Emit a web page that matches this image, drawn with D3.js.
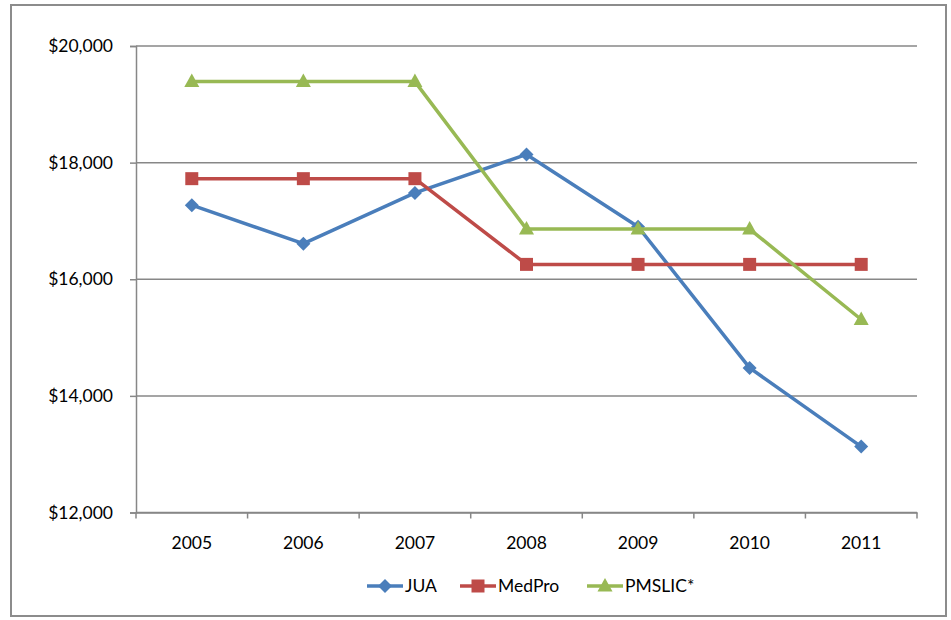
<!DOCTYPE html>
<html><head><meta charset="utf-8">
<script src="https://cdn.jsdelivr.net/npm/d3@7"></script>
<style>body{margin:0;background:#fff}svg{display:block}text{font-family:Lato,"Open Sans",sans-serif;fill:#000}</style>
</head><body>
<script>
const years = ["2005","2006","2007","2008","2009","2010","2011"];
const jua = [17270, 16610, 17480, 18140, 16900, 14480, 13130];
const medpro = [17725, 17725, 17725, 16255, 16255, 16255, 16255];
const pmslic = [19390, 19390, 19390, 16860, 16860, 16860, 15310];
const yTicks = [12000, 14000, 16000, 18000, 20000];
const seriesNames = ["JUA", "MedPro", "PMSLIC*"];
const colors = ["#4a7ebb", "#be4b48", "#98b954"];

const W = 951, H = 620;
const FS = "17.5px";
const svg = d3.select("body").append("svg").attr("width", W).attr("height", H);
svg.append("rect").attr("x", 11).attr("y", 5).attr("width", 935).attr("height", 611)
  .attr("fill", "#fff").attr("stroke", "#8c8c8c").attr("stroke-width", 2);

const L = 136, R = 917, T = 46, B = 512.5;
const x = d3.scaleBand().domain(years).range([L, R]);
const y = d3.scaleLinear().domain([12000, 20000]).range([B, T]);

// marker shapes
function marker(s) {
  if (s === 0) return "M0,-7L7,0L0,7L-7,0Z";        // diamond
  if (s === 1) return "M-6.5,-6.5H6.5V6.5H-6.5Z";   // square
  return "M0,-8L7.5,5.5H-7.5Z";                     // triangle
}

// gridlines
svg.append("g").selectAll("line").data(yTicks).join("line")
  .attr("x1", L).attr("x2", R).attr("y1", d => y(d)).attr("y2", d => y(d))
  .attr("stroke", "#878787").attr("stroke-width", 1.5);

const fmt = d => "$" + d3.format(",")(d);
const yAxis = svg.append("g").attr("transform", `translate(${L},0)`)
  .call(d3.axisLeft(y).tickValues(yTicks).tickFormat(fmt).tickSize(6).tickPadding(17));
yAxis.select(".domain").attr("stroke", "#878787").attr("stroke-width", 1.5);
yAxis.selectAll(".tick line").attr("stroke", "#878787").attr("stroke-width", 1.5);
yAxis.selectAll("text").style("font-size", FS).attr("fill", "#000");

const xAxis = svg.append("g").attr("transform", `translate(0,${B})`)
  .call(d3.axisBottom(x).tickSize(0).tickPadding(24));
xAxis.select(".domain").attr("stroke", "#878787").attr("stroke-width", 1.5);
xAxis.selectAll("text").style("font-size", FS).attr("fill", "#000");
xAxis.append("g").selectAll("line").data(years.concat(["end"])).join("line")
  .attr("x1", (d, i) => L + i * x.step()).attr("x2", (d, i) => L + i * x.step())
  .attr("y1", 0).attr("y2", 6).attr("stroke", "#878787").attr("stroke-width", 1.5);

const data = [jua, medpro, pmslic];
const line = d3.line().x((d, i) => x(years[i]) + x.bandwidth() / 2).y(d => y(d));
data.forEach((vals, s) => {
  svg.append("path").datum(vals).attr("d", line).attr("fill", "none")
    .attr("stroke", colors[s]).attr("stroke-width", 3.5).attr("stroke-linejoin", "round");
  svg.append("g").selectAll("path").data(vals).join("path")
    .attr("transform", (d, i) => `translate(${x(years[i]) + x.bandwidth() / 2},${y(d)})`)
    .attr("d", marker(s)).attr("fill", colors[s]);
});

// legend
const legX = [367, 460, 587];
const leg = svg.append("g").attr("transform", "translate(0,586)");
seriesNames.forEach((n, s) => {
  leg.append("line").attr("x1", legX[s]).attr("x2", legX[s] + 36).attr("y1", 0).attr("y2", 0)
    .attr("stroke", colors[s]).attr("stroke-width", 3.5);
  leg.append("path").attr("transform", `translate(${legX[s] + 18},0)`)
    .attr("d", marker(s)).attr("fill", colors[s]);
  leg.append("text").attr("x", legX[s] + 38).attr("y", 0).attr("dy", "0.36em")
    .style("font-size", FS).text(n);
});
</script>
</body></html>
